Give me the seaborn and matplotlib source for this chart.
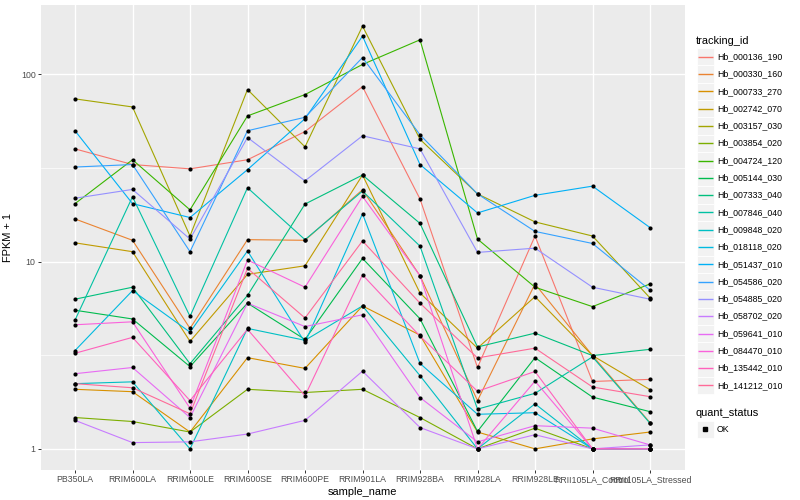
import numpy as np
import pandas as pd
import matplotlib
matplotlib.use("Agg")
import matplotlib.pyplot as plt
import seaborn as sns
from matplotlib.patches import Rectangle
from matplotlib.lines import Line2D
from matplotlib.ticker import FixedLocator, NullFormatter

# Data (FPKM + 1)
samples = ["PB350LA", "RRIM600LA", "RRIM600LE", "RRIM600SE", "RRIM600PE", "RRIM901LA",
           "RRIM928BA", "RRIM928LA", "RRIM928LE", "RRII105LA_Control", "RRII105LA_Stressed"]

tracking_ids = ["Hb_000136_190", "Hb_000330_160", "Hb_000733_270", "Hb_002742_070",
                "Hb_003157_030", "Hb_003854_020", "Hb_004724_120", "Hb_005144_030",
                "Hb_007333_040", "Hb_007846_040", "Hb_009848_020", "Hb_018118_020",
                "Hb_051437_010", "Hb_054586_020", "Hb_054885_020", "Hb_058702_020",
                "Hb_059641_010", "Hb_084470_010", "Hb_135442_010", "Hb_141212_010"]

hb_000136_190 = [40, 33, 31.3, 35, 49.5, 86, 21.6, 2.72, 13.7, 2.29, 2.35]
hb_000330_160 = [16.9, 13.0, 4.4, 13.1, 13.0, 24.2, 8.4, 1.81, 7.6, 3.15, 1.38]
hb_000733_270 = [2.08, 2.02, 1.23, 3.07, 2.69, 5.8, 4.05, 1.23, 1.0, 1.13, 1.23]
hb_002742_070 = [12.6, 11.3, 3.75, 8.55, 9.5, 29, 6.8, 3.45, 6.5, 3.15, 2.07]
hb_003157_030 = [74, 67, 13.7, 83, 41, 181, 45, 23, 16.3, 13.7, 6.4]
hb_003854_020 = [1.47, 1.40, 1.23, 2.08, 2.0, 2.08, 1.47, 1.0, 1.29, 1.0, 1.0]
hb_004724_120 = [20.4, 35, 18.9, 60, 78, 113, 153, 13.2, 7.3, 5.75, 7.6]
hb_005144_030 = [5.5, 4.94, 2.75, 6.0, 3.84, 10.4, 4.95, 1.24, 3.07, 1.89, 1.58]
hb_007333_040 = [6.3, 7.3, 2.85, 6.6, 20.3, 29, 16, 3.5, 4.15, 3.15, 3.4]
hb_007846_040 = [4.87, 22.2, 5.1, 24.8, 13.1, 23.8, 12.1, 1.63, 1.98, 3.1, 1.37]
hb_009848_020 = [2.23, 2.28, 1.0, 4.4, 3.8, 5.8, 2.46, 1.0, 1.74, 1.0, 1.0]
hb_018118_020 = [3.35, 7.0, 4.2, 11.4, 3.7, 18, 2.86, 1.53, 1.56, 1.0, 1.0]
hb_051437_010 = [50, 20.4, 17.2, 31, 58, 160, 33, 18.2, 22.6, 25.3, 15.2]
hb_054586_020 = [32, 33, 11.3, 50, 59, 123, 47.6, 23, 14.5, 12.5, 7.05]
hb_054885_020 = [21.8, 24.3, 13.2, 46, 27, 47, 40, 11.2, 11.8, 7.3, 6.3]
hb_058702_020 = [1.42, 1.08, 1.09, 1.2, 1.42, 2.6, 1.3, 1.0, 1.19, 1.0, 1.05]
hb_059641_010 = [2.52, 2.72, 1.47, 6.0, 4.5, 5.2, 1.88, 1.09, 1.33, 1.29, 1.05]
hb_084470_010 = [4.6, 4.77, 1.65, 10.2, 7.3, 22.3, 8.4, 1.0, 2.3, 1.0, 1.0]
hb_135442_010 = [3.24, 3.94, 1.81, 4.35, 1.92, 8.5, 4.0, 2.03, 2.59, 1.0, 1.0]
hb_141212_010 = [2.23, 2.12, 1.54, 9.2, 5.0, 12.9, 6.0, 3.06, 3.45, 2.14, 1.9]

series = [hb_000136_190, hb_000330_160, hb_000733_270, hb_002742_070, hb_003157_030,
          hb_003854_020, hb_004724_120, hb_005144_030, hb_007333_040, hb_007846_040,
          hb_009848_020, hb_018118_020, hb_051437_010, hb_054586_020, hb_054885_020,
          hb_058702_020, hb_059641_010, hb_084470_010, hb_135442_010, hb_141212_010]

quant_status = ["OK"]

df = pd.DataFrame([
    {"tracking_id": tid, "sample_name": s, "fpkm": v, "quant_status": "OK"}
    for tid, vals in zip(tracking_ids, series)
    for s, v in zip(samples, vals)
])


# ggplot2 default hue palette (hcl, l=65, c=100)
def hcl_hex(h, c=100.0, l=65.0):
    hr = np.deg2rad(h)
    u, v = c * np.cos(hr), c * np.sin(hr)
    xn, yn, zn = 95.047, 100.0, 108.883
    y = yn * ((l + 16) / 116) ** 3
    den = xn + 15 * yn + 3 * zn
    up = u / (13 * l) + 4 * xn / den
    vp = v / (13 * l) + 9 * yn / den
    x = 9 * y * up / (4 * vp)
    z = (9 * y / vp - x - 15 * y) / 3
    m = np.array([[3.240479, -1.537150, -0.498535],
                  [-0.969256, 1.875992, 0.041556],
                  [0.055648, -0.204043, 1.057311]])
    rgb = m @ (np.array([x, y, z]) / 100)
    rgb = np.where(rgb <= 0.0031308, 12.92 * rgb, 1.055 * np.abs(rgb) ** (1 / 2.4) - 0.055)
    r, g, b = np.clip(rgb, 0, 1)
    return "#{:02X}{:02X}{:02X}".format(int(round(r * 255)), int(round(g * 255)), int(round(b * 255)))


n = len(tracking_ids)
palette = [hcl_hex(15 + i * 360 / n) for i in range(n)]

plt.rcParams['font.family'] = ['Liberation Sans Narrow', 'Liberation Sans', 'DejaVu Sans']

W, H = 800, 500
fig = plt.figure(figsize=(8, 5), dpi=100)
ax = fig.add_axes([40.5 / W, 1 - 470 / H, 644 / W, 465 / H])
ax.set_facecolor("#EBEBEB")

sns.lineplot(data=df, x="sample_name", y="fpkm", hue="tracking_id", hue_order=tracking_ids,
             palette=palette, sort=False, legend=False, linewidth=0.8, ax=ax)
sns.scatterplot(data=df, x="sample_name", y="fpkm", color="black", s=9, linewidth=0,
                legend=False, ax=ax, zorder=3)

ax.set_yscale("log")
lo, hi = np.log10(df["fpkm"].min()), np.log10(df["fpkm"].max())
pad = 0.05 * (hi - lo)
ax.set_ylim(10 ** (lo - pad), 10 ** (hi + pad))
ax.set_xlim(-0.6, len(samples) - 0.4)

ax.yaxis.set_major_locator(FixedLocator([1, 10, 100]))
ax.set_yticklabels(["1", "10", "100"])
ax.yaxis.set_minor_locator(FixedLocator([10 ** 0.5, 10 ** 1.5]))
ax.yaxis.set_minor_formatter(NullFormatter())
ax.set_xticks(range(len(samples)))
ax.set_xticklabels(samples)

ax.grid(which="major", color="white", linewidth=1.0)
ax.grid(which="minor", axis="y", color="white", linewidth=0.5)
ax.set_axisbelow(True)
for sp in ax.spines.values():
    sp.set_visible(False)
ax.tick_params(which="major", length=2, width=0.7, color="#333333",
               labelcolor="#4D4D4D", labelsize=6.3, pad=1.5)
ax.tick_params(which="minor", length=0)

ax.set_xlabel("sample_name", fontsize=7.9, labelpad=2)
ax.set_ylabel("FPKM + 1", fontsize=7.9, labelpad=6)

# legends drawn by hand in ggplot style
def fx(px):
    return px / W


def fy(py):
    return 1 - py / H


key = 17.3
fig.text(fx(696), fy(40.7), "tracking_id", fontsize=7.9, va="center", ha="left")
for i, (tid, col) in enumerate(zip(tracking_ids, palette)):
    cy = 56.7 + i * key
    fig.add_artist(Rectangle((fx(696.5), fy(cy + key / 2)), key / W, key / H,
                             transform=fig.transFigure, fc="#F2F2F2", ec="white", lw=0.6,
                             zorder=1))
    fig.add_artist(Line2D([fx(698), fx(712.5)], [fy(cy), fy(cy)], transform=fig.transFigure,
                          color=col, lw=1.0, zorder=5, solid_capstyle="butt"))
    fig.text(fx(717), fy(cy), tid, fontsize=6.3, va="center", ha="left")

fig.text(fx(696), fy(412.7), "quant_status", fontsize=7.9, va="center", ha="left")
for j, qs in enumerate(quant_status):
    cy = 429.3 + j * key
    fig.add_artist(Rectangle((fx(696.5), fy(cy + key / 2)), key / W, key / H,
                             transform=fig.transFigure, fc="#F2F2F2", ec="white", lw=0.6,
                             zorder=1))
    fig.add_artist(Line2D([fx(705)], [fy(cy)], transform=fig.transFigure, color="black",
                          marker="s", markersize=2.2, lw=0, zorder=5))
    fig.text(fx(717), fy(cy), qs, fontsize=6.3, va="center", ha="left")

fig.savefig("out.png", dpi=100)
